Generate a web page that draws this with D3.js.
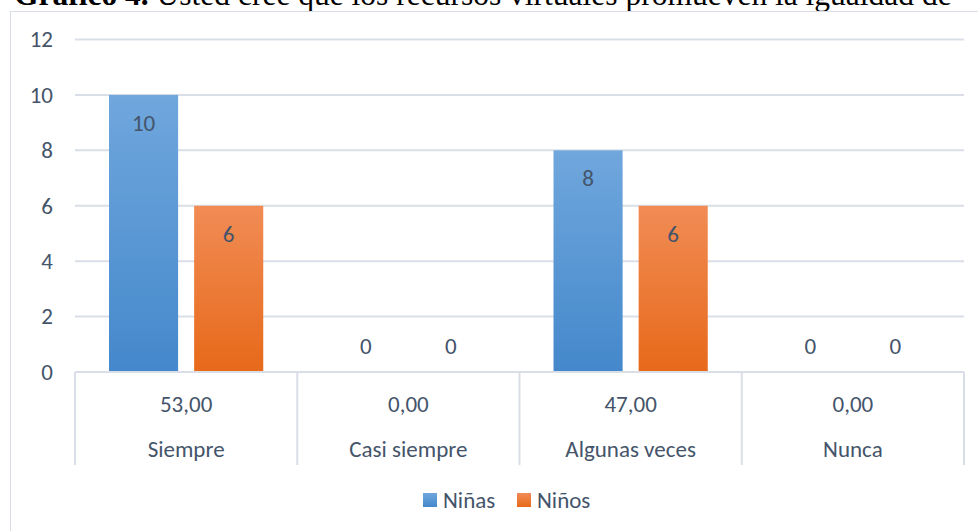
<!DOCTYPE html>
<html>
<head>
<meta charset="utf-8">
<script src="https://cdn.jsdelivr.net/npm/d3@7"></script>
<style>
  body { margin: 0; background: #fff; }
  svg { display: block; }
</style>
</head>
<body>
<script>
// Data
var categories = ["Siempre", "Casi siempre", "Algunas veces", "Nunca"];
var percentages = ["53,00", "0,00", "47,00", "0,00"];
var seriesNames = ["Niñas", "Niños"];
var ninas = [10, 0, 8, 0];
var ninos = [6, 0, 6, 0];
var yTicks = [0, 2, 4, 6, 8, 10, 12];

// Size
var width = 978;
var height = 531;
var plot = { left: 75, right: 964, top: 39.5, bottom: 372 };
var textColor = "#44546a";
var gridColor = "#dadfe7";
var font = "Carlito, Lato, 'Open Sans', sans-serif";
var fontSize = 23;

var svg = d3.select("body")
    .append("svg")
    .attr("width", width)
    .attr("height", height);

// gradients
var defs = svg.append("defs");
var gradBlue = defs.append("linearGradient").attr("id", "gBlue")
    .attr("x1", 0).attr("y1", 0).attr("x2", 0).attr("y2", 1);
gradBlue.append("stop").attr("offset", "0%").attr("stop-color", "#70a7dd");
gradBlue.append("stop").attr("offset", "100%").attr("stop-color", "#4488cb");
var gradOrange = defs.append("linearGradient").attr("id", "gOrange")
    .attr("x1", 0).attr("y1", 0).attr("x2", 0).attr("y2", 1);
gradOrange.append("stop").attr("offset", "0%").attr("stop-color", "#f18c55");
gradOrange.append("stop").attr("offset", "100%").attr("stop-color", "#e7691a");
var fills = ["url(#gBlue)", "url(#gOrange)"];

// title (cut at top, as in the source)
var title = svg.append("text")
    .attr("x", 14)
    .attr("y", 5)
    .attr("font-family", "'Liberation Serif', 'Times New Roman', serif")
    .attr("font-size", 31.5)
    .attr("fill", "#000");
title.append("tspan").attr("font-weight", "bold").text("Gráfico 4.");
title.append("tspan").text(" Usted cree que los recursos virtuales promueven la igualdad de");

// chart border
svg.append("rect")
    .attr("x", 10.5)
    .attr("y", 11.5)
    .attr("width", 1000)
    .attr("height", 600)
    .attr("fill", "#fff")
    .attr("stroke", "#d9dde5")
    .attr("stroke-width", 1);

// scales
var yScale = d3.scaleLinear()
    .domain([0, 12])
    .range([plot.bottom, plot.top]);

var x0 = d3.scaleBand()
    .domain(categories)
    .range([plot.left, plot.right]);

var x1 = d3.scaleBand()
    .domain(seriesNames)
    .range([x0.bandwidth() * 0.153, x0.bandwidth() * 0.847])
    .paddingInner(16 / 85);

// gridlines
svg.append("g")
    .selectAll("line")
    .data(yTicks.filter(function (d) { return d > 0; }))
    .enter()
    .append("line")
    .attr("x1", plot.left)
    .attr("x2", plot.right)
    .attr("y1", function (d) { return yScale(d); })
    .attr("y2", function (d) { return yScale(d); })
    .attr("stroke", gridColor)
    .attr("stroke-width", 2);

// y labels
var yAxis = d3.axisLeft(yScale).tickValues(yTicks).tickSize(0).tickPadding(0);
var yG = svg.append("g")
    .attr("transform", "translate(53,0)")
    .call(yAxis);
yG.select(".domain").remove();
yG.selectAll("text")
    .attr("font-family", font)
    .attr("font-size", fontSize)
    .attr("fill", textColor);

// bars
var rows = categories.map(function (c, i) {
    return { cat: c, values: [ninas[i], ninos[i]] };
});

var groups = svg.append("g")
    .selectAll("g")
    .data(rows)
    .enter()
    .append("g")
    .attr("transform", function (d) { return "translate(" + x0(d.cat) + ",0)"; });

var cells = groups.selectAll("g")
    .data(function (d) {
        return d.values.map(function (v, j) { return { name: seriesNames[j], value: v, j: j }; });
    })
    .enter()
    .append("g");

cells.append("rect")
    .attr("x", function (d) { return x1(d.name); })
    .attr("y", function (d) { return yScale(d.value); })
    .attr("width", x1.bandwidth())
    .attr("height", function (d) { return yScale(0) - yScale(d.value); })
    .attr("fill", function (d) { return fills[d.j]; });

cells.append("text")
    .attr("x", function (d) { return x1(d.name) + x1.bandwidth() / 2; })
    .attr("y", function (d) { return yScale(d.value) + (d.value > 0 ? 36 : -18); })
    .attr("text-anchor", "middle")
    .attr("font-family", font)
    .attr("font-size", fontSize)
    .attr("fill", textColor)
    .text(function (d) { return d.value; });

// category axis (two levels)
var axisG = svg.append("g");
axisG.append("line")
    .attr("x1", plot.left)
    .attr("x2", plot.right)
    .attr("y1", plot.bottom)
    .attr("y2", plot.bottom)
    .attr("stroke", gridColor)
    .attr("stroke-width", 2);

var seps = categories.map(function (c) { return x0(c); }).concat([plot.right]);
axisG.selectAll("line.sep")
    .data(seps)
    .enter()
    .append("line")
    .attr("class", "sep")
    .attr("x1", function (d) { return d; })
    .attr("x2", function (d) { return d; })
    .attr("y1", plot.bottom)
    .attr("y2", 465)
    .attr("stroke", gridColor)
    .attr("stroke-width", 2);

axisG.selectAll("text.pct")
    .data(percentages)
    .enter()
    .append("text")
    .attr("class", "pct")
    .attr("x", function (d, i) { return x0(categories[i]) + x0.bandwidth() / 2; })
    .attr("y", 412)
    .attr("text-anchor", "middle")
    .attr("font-family", font)
    .attr("font-size", fontSize)
    .attr("fill", textColor)
    .text(function (d) { return d; });

axisG.selectAll("text.cat")
    .data(categories)
    .enter()
    .append("text")
    .attr("class", "cat")
    .attr("x", function (d) { return x0(d) + x0.bandwidth() / 2; })
    .attr("y", 457)
    .attr("text-anchor", "middle")
    .attr("font-family", font)
    .attr("font-size", fontSize)
    .attr("fill", textColor)
    .text(function (d) { return d; });

// legend
var legendX = [423, 517];
var legend = svg.append("g")
    .selectAll("g")
    .data(seriesNames)
    .enter()
    .append("g")
    .attr("transform", function (d, i) { return "translate(" + legendX[i] + ",493)"; });

legend.append("rect")
    .attr("width", 14)
    .attr("height", 14)
    .attr("fill", function (d, i) { return fills[i]; });

legend.append("text")
    .attr("x", 20)
    .attr("y", 15)
    .attr("font-family", font)
    .attr("font-size", fontSize)
    .attr("fill", textColor)
    .text(function (d) { return d; });
</script>
</body>
</html>
